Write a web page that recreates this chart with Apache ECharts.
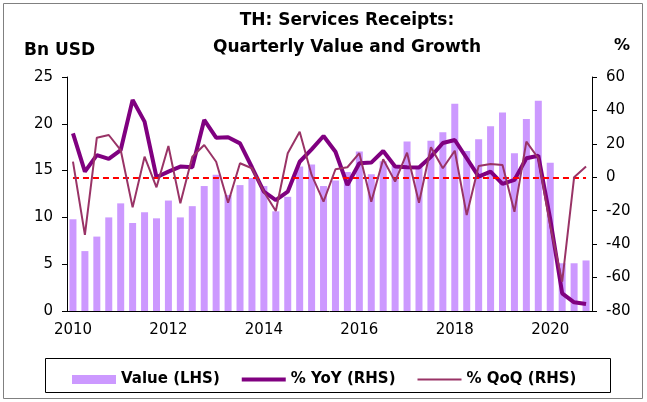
<!DOCTYPE html>
<html>
<head>
<meta charset="utf-8">
<script src="https://cdn.jsdelivr.net/npm/echarts@6/dist/echarts.min.js"></script>
<style>
  html, body { margin: 0; padding: 0; background: #fff; }
  #chart { width: 647px; height: 402px; }
</style>
</head>
<body>
<div id="chart"></div>
<script>
// quarters 2010Q1 .. 2020Q4
var years = [2010, 2011, 2012, 2013, 2014, 2015, 2016, 2017, 2018, 2019, 2020]
var quarters = ['Q1', 'Q2', 'Q3', 'Q4']
var categories = []
years.forEach(function (y) {
  quarters.forEach(function (q) { categories.push(y + q) })
})

// Bn USD (LHS)
var valueData = [9.8, 6.4, 7.95, 10.0, 11.5, 9.4, 10.55, 9.9, 11.8, 10.0, 11.2, 13.35,
  14.55, 12.4, 13.45, 14.2, 13.35, 10.65, 12.2, 15.45, 15.65, 13.35, 13.95, 14.85,
  17.05, 14.6, 16.0, 15.5, 18.1, 15.4, 18.2, 19.1, 22.15, 17.1, 18.35, 19.75,
  21.2, 16.85, 20.5, 22.45, 15.85, 5.1, 5.1, 5.4]

// % (RHS)
var yoyData = [26.3, 3.4, 13.3, 11, 16.3, 46.3, 33.3, 0, 3.4, 6.4, 6, 34.3,
  23.7, 23.9, 20.3, 6, -8.6, -13.6, -8.6, 9.3, 16.7, 24.7, 15.3, -4.6,
  8.4, 8.8, 15.7, 6.4, 6, 5.8, 12.3, 20.5, 22.3, 11.4, 0.4, 3.4,
  -4, -1.6, 11.4, 12.9, -25, -69.4, -74.8, -75.8]

var qoqData = [9.4, -34.5, 23.7, 25.3, 16.3, -18, 12.3, -6, 18.7, -15.6, 12.3, 19.3,
  9.3, -15.2, 8.4, 5.4, -8.6, -20.2, 14.4, 27.3, 1.4, -14.6, 4.8, 6,
  14.4, -14.6, 10.8, -2.6, 14.7, -15.2, 18, 5.4, 15.9, -22.6, 6.8, 8,
  7.4, -20.6, 21.3, 11.4, -29, -62.5, 0, 6.4]

var leftTicks = { min: 0, max: 25, interval: 5 }
var rightTicks = { min: -80, max: 60, interval: 20 }

var font = 'DejaVu Sans'
var chart = echarts.init(document.getElementById('chart'))

chart.setOption({
  animation: false,
  textStyle: { fontFamily: font, color: '#000' },
  title: [
    {
      text: 'TH: Services Receipts:\nQuarterly Value and Growth',
      left: 342,
      top: 2,
      textAlign: 'center',
      textStyle: { fontFamily: font, fontSize: 17, fontWeight: 'bold', color: '#000', lineHeight: 27 }
    },
    {
      text: 'Bn USD',
      left: 19,
      top: 37,
      textStyle: { fontFamily: font, fontSize: 17, fontWeight: 'bold', color: '#000' }
    },
    {
      text: '%',
      left: 609,
      top: 33,
      textStyle: { fontFamily: font, fontSize: 16, fontWeight: 'bold', color: '#000' }
    }
  ],
  graphic: [
    {
      type: 'rect',
      shape: { x: 3.5, y: 3.5, width: 639, height: 395 },
      style: { fill: 'none', stroke: '#808080', lineWidth: 1 },
      silent: true
    },
    {
      type: 'rect',
      shape: { x: 45.5, y: 358.5, width: 565, height: 34 },
      style: { fill: 'none', stroke: '#000', lineWidth: 1 },
      silent: true
    }
  ],
  grid: {
    left: 67,
    right: 55,
    top: 77,
    bottom: 91
  },
  legend: {
    left: 67,
    top: 367,
    itemGap: 22,
    itemWidth: 44,
    itemHeight: 9,
    textStyle: { fontFamily: font, fontSize: 15, fontWeight: 'bold', color: '#000' },
    data: [
      { name: 'Value (LHS)', icon: 'rect' },
      { name: '% YoY (RHS)', icon: 'path://M0,0h44v4h-44z' },
      { name: '% QoQ (RHS)', icon: 'path://M0,0h44v2h-44z' }
    ]
  },
  xAxis: {
    type: 'category',
    data: categories,
    boundaryGap: true,
    axisLine: { lineStyle: { color: '#000', width: 1 } },
    axisTick: { interval: 3, length: 5, lineStyle: { color: '#000' } },
    axisLabel: {
      interval: 7,
      margin: 12,
      fontSize: 15,
      color: '#000',
      fontFamily: font,
      formatter: function (v) { return v.slice(0, 4) }
    },
    splitLine: { show: false }
  },
  yAxis: [
    {
      type: 'value',
      min: leftTicks.min,
      max: leftTicks.max,
      interval: leftTicks.interval,
      axisLine: { show: true, lineStyle: { color: '#000' } },
      axisTick: { show: true, length: 5, lineStyle: { color: '#000' } },
      axisLabel: { margin: 14, fontSize: 15, color: '#000', fontFamily: font },
      splitLine: { show: false }
    },
    {
      type: 'value',
      min: rightTicks.min,
      max: rightTicks.max,
      interval: rightTicks.interval,
      position: 'right',
      axisLine: { show: true, lineStyle: { color: '#000' } },
      axisTick: { show: true, length: 5, lineStyle: { color: '#000' } },
      axisLabel: { margin: 14, fontSize: 15, color: '#000', fontFamily: font },
      splitLine: { show: false }
    }
  ],
  series: [
    {
      name: 'Value (LHS)',
      type: 'bar',
      yAxisIndex: 0,
      barWidth: 7,
      itemStyle: { color: '#CC99FF' },
      data: valueData
    },
    {
      name: '% YoY (RHS)',
      type: 'line',
      yAxisIndex: 1,
      symbol: 'none',
      itemStyle: { color: '#800080' },
      lineStyle: { color: '#800080', width: 4 },
      data: yoyData,
      z: 4,
      markLine: {
        silent: true,
        symbol: 'none',
        label: { show: false },
        lineStyle: { color: '#FF0000', type: [6, 4], width: 2 },
        data: [[{ coord: [0, 0] }, { coord: [categories.length - 1, 0] }]]
      }
    },
    {
      name: '% QoQ (RHS)',
      type: 'line',
      yAxisIndex: 1,
      symbol: 'none',
      itemStyle: { color: '#993366' },
      lineStyle: { color: '#993366', width: 2 },
      data: qoqData,
      z: 5
    }
  ]
})
</script>
</body>
</html>
